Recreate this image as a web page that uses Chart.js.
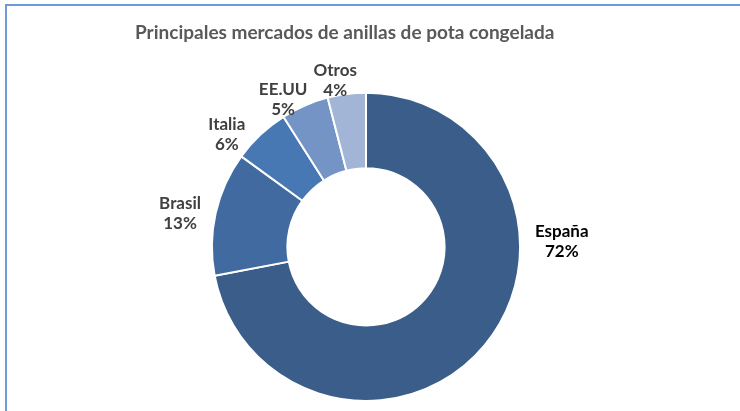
<!DOCTYPE html>
<html>
<head>
<meta charset="utf-8">
<script src="https://cdn.jsdelivr.net/npm/chart.js@4.4.1/dist/chart.umd.min.js"></script>
<style>
  html, body { margin: 0; padding: 0; background: #ffffff; }
  #wrap { position: relative; width: 740px; height: 411px; overflow: hidden; }
  #frame { position: absolute; left: 5px; top: 4px; width: 760px; height: 440px;
           border-top: 2px solid #6D9BDA; border-left: 2px solid #6D9BDA; box-sizing: border-box; }
  canvas { position: absolute; left: 0; top: 0; }
</style>
</head>
<body>
<div id="wrap">
  <div id="frame"></div>
  <canvas id="c" width="740" height="411"></canvas>
</div>
<script>
// ---- data ----
const categories = ['España', 'Brasil', 'Italia', 'EE.UU', 'Otros'];
const shares = [72, 13, 6, 5, 4];
const sliceColors = ['#3A5D8A', '#416BA0', '#4778B4', '#7494C5', '#A3B5D7'];
const titleText = 'Principales mercados de anillas de pota congelada';

// label placement (style): angle in degrees clockwise from top, distance as fraction of outer radius
const labelAngle = [88.3, 280.2, 308.8, 330.7, 349.5];
const labelDist = [1.271, 1.226, 1.159, 1.099, 1.096];
const labelColor = ['#000000', '#404040', '#404040', '#404040', '#404040'];

const FONT = 'Lato, "Open Sans", "Liberation Sans", sans-serif';

const outsideLabels = {
  id: 'outsideLabels',
  afterDatasetsDraw(chart) {
    const meta = chart.getDatasetMeta(0);
    const ds = chart.data.datasets[0].data;
    const total = ds.reduce((a, b) => a + b, 0);
    const ctx = chart.ctx;
    ctx.save();
    ctx.font = 'bold 17px ' + FONT;
    ctx.textAlign = 'center';
    ctx.textBaseline = 'middle';
    meta.data.forEach((arc, i) => {
      const p = arc.getProps(['x', 'y', 'outerRadius'], true);
      const a = labelAngle[i] * Math.PI / 180;
      const r = p.outerRadius * labelDist[i];
      const cx = p.x + Math.sin(a) * r;
      const cy = p.y - Math.cos(a) * r;
      ctx.fillStyle = labelColor[i];
      ctx.fillText(chart.data.labels[i], cx, cy - 10);
      ctx.fillText(Math.round(ds[i] / total * 100) + '%', cx, cy + 10);
    });
    ctx.restore();
  }
};

new Chart(document.getElementById('c'), {
  type: 'doughnut',
  data: {
    labels: categories,
    datasets: [{
      data: shares,
      backgroundColor: sliceColors,
      borderColor: '#ffffff',
      borderWidth: 2,
      hoverOffset: 0
    }]
  },
  options: {
    responsive: false,
    animation: false,
    cutout: '51%',
    rotation: 0,
    layout: { padding: { left: 135, right: 143, top: 0, bottom: 9 } },
    plugins: {
      legend: { display: false },
      tooltip: { enabled: false },
      title: {
        display: true,
        text: titleText,
        align: 'start',
        color: '#595959',
        font: { family: FONT, size: 19, weight: 'bold', lineHeight: 1.2 },
        padding: { top: 21, bottom: 48 }
      }
    }
  },
  plugins: [outsideLabels]
});
</script>
</body>
</html>
